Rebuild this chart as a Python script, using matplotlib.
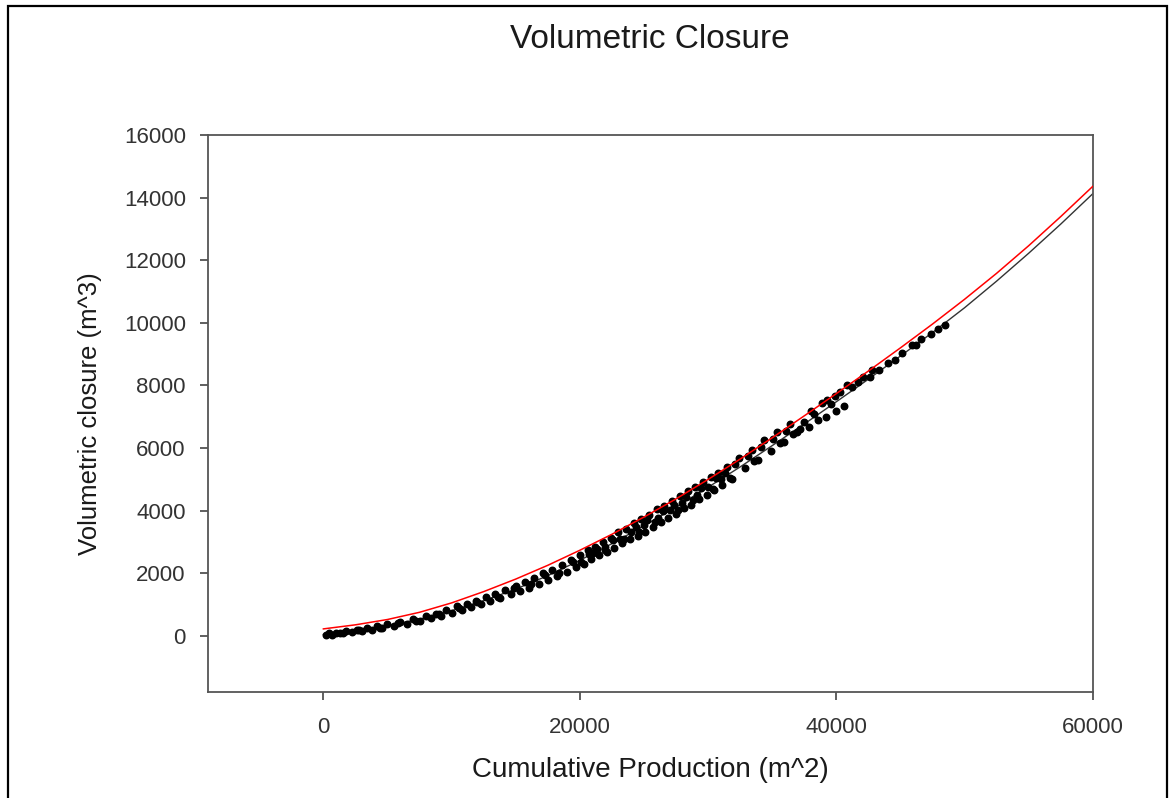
import numpy as np
import matplotlib.pyplot as plt
from matplotlib.patches import Rectangle

plt.rcParams['font.family'] = ['Liberation Sans', 'DejaVu Sans']

# fitted curves, every 2500 m^2
curve_x = [0, 2500, 5000, 7500, 10000, 12500, 15000, 17500, 20000, 22500, 25000, 27500,
           30000, 32500, 35000, 37500, 40000, 42500, 45000, 47500, 50000, 52500, 55000,
           57500, 60000]
red_fit = [230, 360, 530, 760, 1060, 1420, 1820, 2260, 2740, 3250, 3800, 4380,
           5000, 5650, 6330, 7030, 7740, 8460, 9200, 9960, 10750, 11580, 12460,
           13390, 14355]
black_fit = [50, 170, 330, 540, 810, 1130, 1500, 1930, 2420, 2950, 3520, 4120,
             4750, 5400, 6080, 6770, 7480, 8200, 8940, 9690, 10480, 11330, 12220,
             13150, 14120]

# measured points (cumulative production, volumetric closure)
prod = [200, 400, 700, 1000, 1300, 1800, 2200, 2600, 3000, 3400, 3800, 4200, 4600,
        5000, 5500, 6000, 6500, 7000, 7500, 8000, 8400, 8800, 9200, 9600, 10000,
        10400, 10800, 11200, 11500, 11900, 12300, 12700, 13000, 13400, 13800, 14200,
        14600, 15000, 15300, 15700, 16000, 16400, 16800, 17100, 17500, 17800, 18200,
        18600, 19000, 19300, 19700, 20000, 20300,
        20600, 20900, 21200, 21500, 21800, 22100, 22400, 22700, 23000, 23300, 23600,
        23900, 24200, 24500, 24800, 25100, 25400, 25700, 26000, 26300, 26600, 26900,
        27200, 27500, 27800, 28100, 28400, 28700, 29000, 29300, 29600, 29900, 30200,
        30500, 30800, 31100, 31500, 31900,
        21000, 22000, 23100, 24000, 25000, 26100, 27000, 28000, 29100, 30000, 31000,
        32400, 32900, 33400, 33900, 34400, 34900, 35400, 35900, 36400, 36900, 37200,
        37900, 38000, 38600, 39200, 39300, 40000, 39900, 40600, 40800,
        41200, 41700, 42100, 42600, 42800, 44000, 45100, 45900, 46600, 47400, 47900, 48440,
        1500, 2800, 4400, 5800, 7200, 9000, 10600, 12000, 13600, 14900, 16200, 17300,
        18400, 19500, 20100, 20750, 21350, 21950, 22550, 23450, 24350, 24650, 25250,
        25850, 26450, 27350, 27650, 28250, 28850, 29450, 30350, 30650, 31300, 31700,
        32100, 33100, 33600, 34100, 35100, 35600, 36100, 36600, 37500, 38300, 38900,
        39600, 40300, 43300, 44600, 46200]
closure = [40, 85, 50, 115, 85, 165, 120, 210, 160, 255, 210, 310, 245,
           380, 310, 455, 390, 545, 470, 635, 565, 720, 650, 820, 750,
           950, 830, 1035, 925, 1120, 1020, 1240, 1110, 1330, 1210, 1465,
           1345, 1610, 1440, 1730, 1550, 1860, 1670, 2020, 1790, 2110, 1920,
           2275, 2055, 2440, 2210, 2580, 2310,
           2740, 2470, 2850, 2590, 3010, 2670, 3140, 2810, 3310, 2960, 3430,
           3090, 3610, 3210, 3730, 3330, 3880, 3490, 4050, 3630, 4160, 3770,
           4310, 3890, 4470, 4100, 4630, 4200, 4770, 4370, 4910, 4510, 5070,
           4650, 5220, 4810, 5410, 5000,
           2650, 2850, 3110, 3310, 3560, 3780, 4010, 4250, 4510, 4770, 5000,
           5700, 5380, 5950, 5620, 6250, 5900, 6500, 6200, 6780, 6520, 6620,
           6690, 7200, 6900, 6990, 7550, 7170, 7650, 7330, 8020,
           7960, 8100, 8280, 8280, 8500, 8720, 9040, 9300, 9490, 9650, 9810, 9940,
           105, 195, 270, 420, 480, 710, 900, 1100, 1240, 1530, 1650, 1960,
           2020, 2380, 2360, 2610, 2790, 2750, 3060, 3090, 3470, 3330, 3720,
           3630, 3980, 4180, 4030, 4430, 4350, 4730, 4710, 5050, 5200, 5050,
           5500, 5750, 5600, 6050, 6300, 6150, 6550, 6450, 6850, 7100, 7450,
           7400, 7800, 8500, 8800, 9300]

fig = plt.figure(figsize=(11.75, 7.98), dpi=100)
ax = fig.add_axes([0.177, 0.133, 0.753, 0.698])

ax.scatter(prod, closure, s=22, color='black', zorder=3)
ax.plot(curve_x, black_fit, color='#333333', lw=1.0, zorder=2)
ax.plot(curve_x, red_fit, color='red', lw=1.1, zorder=4)

ax.set_xlim(-9000, 60000)
ax.set_ylim(-1780, 16000)
ax.set_xticks([0, 20000, 40000, 60000])
ax.set_yticks(np.arange(0, 16001, 2000))
ax.tick_params(direction='out', length=6, width=1.2, colors='#444444',
               labelsize=16, labelcolor='#333333')
ax.tick_params(axis='y', pad=10)
ax.tick_params(axis='x', pad=12)
for s in ax.spines.values():
    s.set_color('#555555')
    s.set_linewidth(1.3)

ax.set_xlabel("Cumulative Production (m^2)", fontsize=20, color='#1a1a1a', labelpad=14)
ax.set_ylabel("Volumetric closure (m^3)", fontsize=18.5, color='#1a1a1a', labelpad=16)
fig.text(0.553, 0.950, "Volumetric Closure", fontsize=24, color='#1a1a1a',
         ha='center', va='center')

# outer frame of the exported picture
fig.patches.append(Rectangle((8 / 1175, -0.02), 1159 / 1175, 1 - 6 / 798 + 0.02,
                             transform=fig.transFigure, fill=False,
                             edgecolor='black', lw=1.6))

plt.savefig("out.png", dpi=100)
